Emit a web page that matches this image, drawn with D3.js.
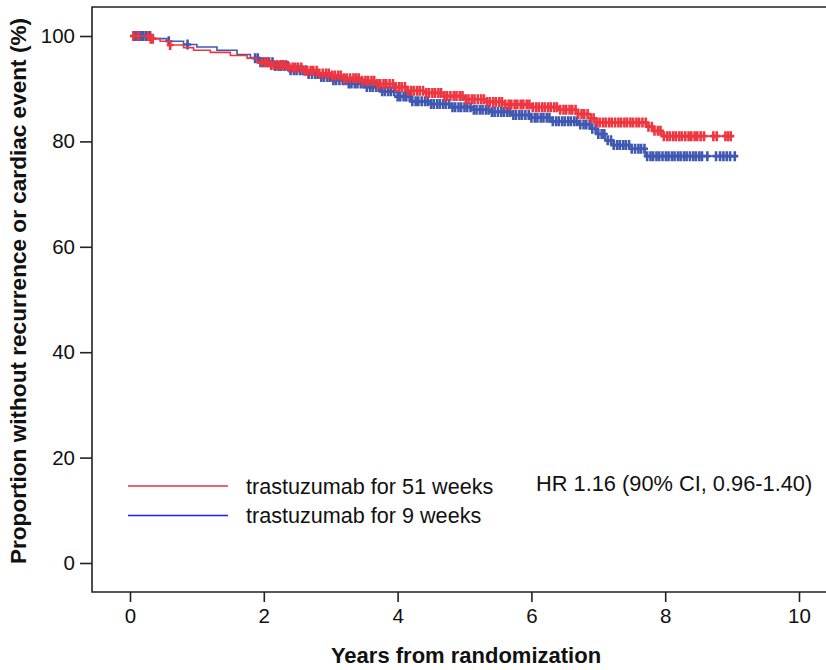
<!DOCTYPE html>
<html>
<head>
<meta charset="utf-8">
<script src="https://cdn.jsdelivr.net/npm/d3@7"></script>
<style>
  body { margin: 0; background: #fff; }
  svg { display: block; font-family: "Liberation Sans", Arial, sans-serif; }
</style>
</head>
<body>
<div class="svgWrap"></div>
<script>
// Kaplan-Meier steps: time (years) where the curve drops, and the value after the drop (%)
var redTimes = [0, 0.3, 0.45, 0.6, 0.8, 0.95, 1.2, 1.5, 1.75, 1.9, 2.1, 2.35, 2.6, 2.8, 3.0, 3.2, 3.45, 3.7, 3.95, 4.15, 4.4, 4.7, 5.0, 5.3, 5.6, 6.0, 6.4, 6.7, 6.85, 6.95, 7.72, 7.82, 7.95];
var redSurv  = [100, 99.5, 99.0, 98.3, 97.8, 97.3, 96.9, 96.3, 95.8, 95.0, 94.5, 94.0, 93.4, 92.9, 92.5, 92.0, 91.5, 90.9, 90.3, 89.6, 89.2, 88.6, 88.0, 87.5, 87.0, 86.5, 86.0, 85.2, 84.4, 83.6, 82.8, 82.0, 81.0];
var redEnd = 9.0;

var blueTimes = [0, 0.35, 0.55, 0.8, 1.0, 1.3, 1.6, 1.8, 1.95, 2.15, 2.4, 2.65, 2.85, 3.0, 3.25, 3.5, 3.75, 4.0, 4.2, 4.5, 4.8, 5.1, 5.4, 5.7, 6.0, 6.3, 6.7, 6.9, 7.0, 7.1, 7.2, 7.5, 7.7];
var blueSurv  = [100, 99.5, 99.0, 98.4, 97.9, 97.3, 96.5, 95.8, 95.0, 94.3, 93.5, 92.8, 92.2, 91.6, 91.0, 90.3, 89.5, 88.5, 87.6, 87.1, 86.5, 86.0, 85.6, 85.0, 84.5, 83.8, 83.2, 82.4, 81.4, 80.2, 79.3, 78.6, 77.2];
var blueEnd = 9.05;

// censoring times (years)
var redCensor = [0.05, 0.12, 0.27, 0.31, 0.34, 0.6,
  1.97, 2.02, 2.06, 2.11, 2.15, 2.2, 2.25, 2.29, 2.33, 2.38, 2.43, 2.47, 2.51, 2.56, 2.61, 2.65, 2.7, 2.74, 2.79, 2.83, 2.88, 2.93, 2.97,
  3.02, 3.06, 3.11, 3.15, 3.2, 3.24, 3.29, 3.34, 3.38, 3.42, 3.47, 3.52, 3.56, 3.61, 3.65, 3.7, 3.74, 3.79, 3.83, 3.88, 3.93, 3.97,
  4.02, 4.06, 4.11, 4.15, 4.2, 4.24, 4.29, 4.33, 4.38, 4.43, 4.47, 4.52, 4.56, 4.61, 4.65, 4.7, 4.74, 4.79, 4.84, 4.88, 4.93, 4.97,
  5.02, 5.06, 5.11, 5.15, 5.2, 5.25, 5.29, 5.34, 5.38, 5.43, 5.47, 5.52, 5.56, 5.61, 5.66, 5.7, 5.75, 5.79, 5.84, 5.88, 5.93, 5.97,
  6.02, 6.07, 6.11, 6.16, 6.2, 6.25, 6.29, 6.34, 6.38, 6.43, 6.48, 6.52, 6.57, 6.61, 6.66, 6.7, 6.75, 6.79, 6.84, 6.89, 6.93, 6.98,
  7.02, 7.07, 7.11, 7.16, 7.2, 7.25, 7.3, 7.34, 7.39, 7.43, 7.48, 7.52, 7.57, 7.61, 7.66, 7.71, 7.75, 7.8, 7.84, 7.89, 7.93, 7.98,
  8.03, 8.07, 8.12, 8.16, 8.21, 8.25, 8.3, 8.35, 8.39, 8.44, 8.48, 8.53, 8.58, 8.72, 8.77, 8.9, 8.94, 8.98];

var blueCensor = [0.07, 0.1, 0.13, 0.17, 0.2, 0.24, 0.3, 0.58, 0.86, 1.87, 1.91, 1.95,
  1.99, 2.04, 2.08, 2.13, 2.17, 2.22, 2.26, 2.31, 2.36, 2.4, 2.45, 2.49, 2.54, 2.58, 2.63, 2.67, 2.72, 2.77, 2.81, 2.86, 2.9, 2.95, 2.99,
  3.04, 3.08, 3.13, 3.18, 3.22, 3.27, 3.31, 3.36, 3.4, 3.45, 3.49, 3.54, 3.59, 3.63, 3.68, 3.72, 3.77, 3.81, 3.86, 3.9, 3.95, 4.0,
  4.04, 4.09, 4.13, 4.18, 4.22, 4.27, 4.31, 4.36, 4.41, 4.45, 4.5, 4.54, 4.59, 4.63, 4.68, 4.72, 4.77, 4.82, 4.86, 4.91, 4.95,
  5.0, 5.04, 5.09, 5.14, 5.18, 5.23, 5.27, 5.32, 5.36, 5.41, 5.45, 5.5, 5.55, 5.59, 5.64, 5.68, 5.73, 5.77, 5.82, 5.86, 5.91, 5.96,
  6.0, 6.05, 6.09, 6.14, 6.18, 6.23, 6.27, 6.32, 6.37, 6.41, 6.46, 6.5, 6.55, 6.59, 6.64, 6.68, 6.73, 6.78, 6.82, 6.87, 6.91, 6.96,
  7.0, 7.05, 7.09, 7.14, 7.19, 7.23, 7.28, 7.32, 7.37, 7.41, 7.46, 7.5, 7.55, 7.6, 7.64, 7.69, 7.73, 7.78, 7.82, 7.87, 7.91, 7.96,
  8.01, 8.05, 8.1, 8.14, 8.19, 8.23, 8.28, 8.32, 8.37, 8.42, 8.46, 8.51, 8.55, 8.63, 8.76, 8.82, 8.87, 8.92, 8.97, 9.04];

var xTicks = [0, 2, 4, 6, 8, 10];
var yTicks = [0, 20, 40, 60, 80, 100];

var seriesNames = ["trastuzumab for 51 weeks", "trastuzumab for 9 weeks"];
var hrText = "HR 1.16 (90% CI, 0.96-1.40)";

var width = 826, height = 670;
var x = d3.scaleLinear().domain([0, 10]).range([130, 799]);
var y = d3.scaleLinear().domain([0, 100]).range([563, 36]);

var frameLeft = 92, frameTop = 7, frameBottom = 592;

var svg = d3.select(".svgWrap")
  .append("svg")
  .attr("width", width)
  .attr("height", height);

// frame (right side runs off the picture)
svg.append("path")
  .attr("d", "M" + (width + 5) + "," + frameTop + "H" + frameLeft + "V" + frameBottom + "H" + (width + 5))
  .attr("fill", "none")
  .attr("stroke", "#222")
  .attr("stroke-width", 1.6);

// Y axis
var yAxis = svg.append("g")
  .attr("transform", "translate(" + frameLeft + ",0)")
  .call(d3.axisLeft(y).tickValues(yTicks).tickSize(12).tickPadding(5));
yAxis.select(".domain").remove();
yAxis.selectAll("line").attr("stroke", "#222").attr("stroke-width", 1.6);
yAxis.selectAll("text").style("font-size", "20.5px").attr("fill", "#111");

// X axis
var xAxis = svg.append("g")
  .attr("transform", "translate(0," + frameBottom + ")")
  .call(d3.axisBottom(x).tickValues(xTicks).tickSize(10).tickPadding(6));
xAxis.select(".domain").remove();
xAxis.selectAll("line").attr("stroke", "#222").attr("stroke-width", 1.6);
xAxis.selectAll("text").style("font-size", "20.5px").attr("fill", "#111");

// axis titles
svg.append("text")
  .attr("x", 466)
  .attr("y", 663)
  .attr("text-anchor", "middle")
  .style("font-size", "22px")
  .style("font-weight", "bold")
  .attr("fill", "#111")
  .text("Years from randomization");

svg.append("text")
  .attr("transform", "translate(26,291) rotate(-90)")
  .attr("text-anchor", "middle")
  .style("font-size", "22.6px")
  .style("font-weight", "bold")
  .attr("fill", "#111")
  .text("Proportion without recurrence or cardiac event (%)");

// helpers
function stepPoints(times, surv, end) {
  var pts = times.map(function(t, i) { return [t, surv[i]]; });
  pts.push([end, surv[surv.length - 1]]);
  return pts;
}
function survAt(times, surv, t) {
  var s = surv[0];
  for (var i = 0; i < times.length; i++) {
    if (times[i] <= t) s = surv[i];
  }
  return s;
}

var line = d3.line()
  .x(function(d) { return x(d[0]); })
  .y(function(d) { return y(d[1]); })
  .curve(d3.curveStepAfter);

var arms = [
  { times: blueTimes, surv: blueSurv, end: blueEnd, censor: blueCensor, color: "#3f58b2" },
  { times: redTimes, surv: redSurv, end: redEnd, censor: redCensor, color: "#ee3640" }
];

arms.forEach(function(a) {
  svg.append("path")
    .datum(stepPoints(a.times, a.surv, a.end))
    .attr("d", line)
    .attr("fill", "none")
    .attr("stroke", a.color)
    .attr("stroke-width", 1.6);

  svg.append("g").selectAll("path")
    .data(a.censor)
    .enter()
    .append("path")
    .attr("d", function(t) {
      var cx = x(t), cy = y(survAt(a.times, a.surv, t));
      return "M" + (cx - 3.5) + "," + cy + "H" + (cx + 3.5) + "M" + cx + "," + (cy - 5) + "V" + (cy + 5);
    })
    .attr("stroke", a.color)
    .attr("stroke-width", 2.6)
    .attr("fill", "none");
});

// legend
var legendColors = ["#e8333d", "#1f1fff"];
var legend = svg.append("g");
seriesNames.forEach(function(name, i) {
  var ly = 486 + i * 29.5;
  legend.append("line")
    .attr("x1", 128).attr("x2", 228)
    .attr("y1", ly).attr("y2", ly)
    .attr("stroke", legendColors[i])
    .attr("stroke-width", 1.6);
  legend.append("text")
    .attr("x", 246)
    .attr("y", ly + 7.5)
    .style("font-size", "21.6px")
    .attr("fill", "#111")
    .text(name);
});

svg.append("text")
  .attr("x", 536)
  .attr("y", 491)
  .style("font-size", "21.8px")
  .attr("fill", "#111")
  .text(hrText);
</script>
</body>
</html>
